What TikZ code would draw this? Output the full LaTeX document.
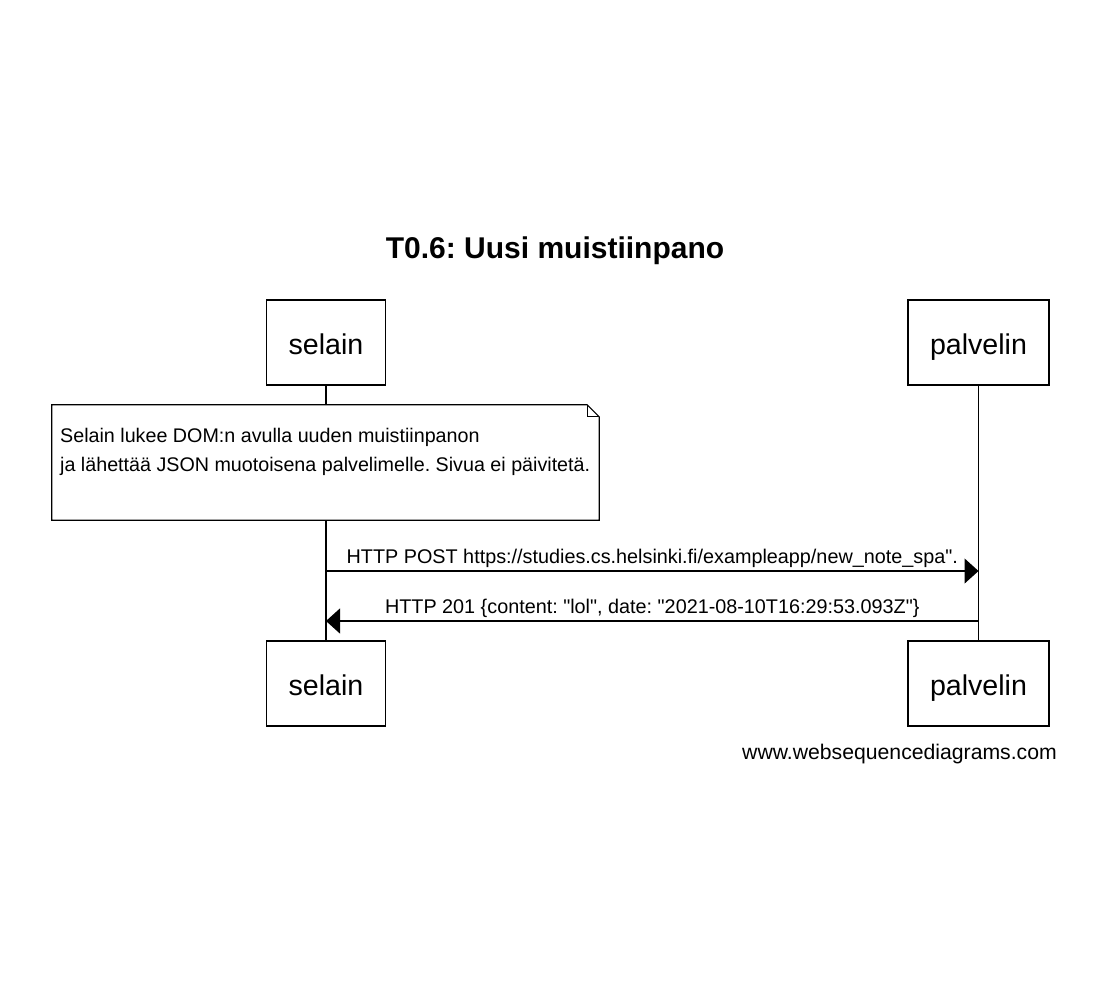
\documentclass[tikz,border=0pt]{standalone}
\usepackage{fontspec}
\setmainfont{Liberation Sans}
\usepackage{tikz}
\usetikzlibrary{arrows.meta, positioning, calc}
\frenchspacing
\newcommand{\dq}{\textquotedbl}

\begin{document}
\begin{tikzpicture}[
    x=1pt, y=-1pt,
    actor/.style={rectangle, draw, line width=1.2pt, fill=white, inner xsep=22pt,
                  minimum height=85pt, text height=23pt, text depth=0pt,
                  font=\fontsize{28.6}{34}\selectfont},
    life/.style={line width=1.2pt},
    notebox/.style={rectangle, minimum width=547pt, minimum height=115pt},
    notetxt/.style={align=left, inner sep=0pt, font=\fontsize{19.7}{29}\selectfont},
    msg/.style={line width=1.2pt, -{Triangle[length=14pt, width=25pt]}},
    lbl/.style={inner sep=2.5pt, font=\fontsize{19.8}{24}\selectfont}
]
\useasboundingbox (0,0) rectangle (1105,997);

\node[font=\fontsize{30}{34}\selectfont\bfseries] (title) at (555,251) {T0.6: Uusi muistiinpano};

\node[actor] (selTop) at (326,342.5) {selain};
\node[actor] (palTop) at (978.5,342.5) {palvelin};
\node[actor] (selBot) at (326,683.5) {selain};
\node[actor] (palBot) at (978.5,683.5) {palvelin};

\draw[life] (selTop) -- (selBot);
\draw[life] (palTop) -- (palBot);

\node[notebox] (note) at (325.5,462.5) {};
\draw[line width=1.2pt, fill=white] (note.north west) -- ($(note.north east)+(-12,0)$)
    -- ($(note.north east)+(0,12)$) -- (note.south east) -- (note.south west) -- cycle;
\draw[line width=1pt] ($(note.north east)+(-12,0)$) -- ($(note.north east)+(-12,12)$)
    -- ($(note.north east)+(0,12)$);
\node[notetxt, anchor=west] (notetext) at (60,452) {Selain lukee DOM:n avulla uuden muistiinpanon\\
ja lähettää JSON muotoisena palvelimelle. Sivua ei päivitetä.};

\coordinate (m1) at (0,571);
\coordinate (m2) at (0,621);
\draw[msg] (selTop |- m1) -- node[lbl, above] (post) {HTTP POST https://studies.cs.helsinki.fi/exampleapp/new\_note\_spa\dq.} (palTop.south |- m1);
\draw[msg] (palTop.south |- m2) -- node[lbl, above] (resp) {HTTP 201 \{content: \dq lol\dq, date: \dq 2021-08-10T16:29:53.093Z\dq\}} (selTop |- m2);

\node[anchor=east, inner sep=0pt, font=\fontsize{21.2}{26}\selectfont] (site) at (1057,754) {www.websequencediagrams.com};
\end{tikzpicture}
\end{document}
